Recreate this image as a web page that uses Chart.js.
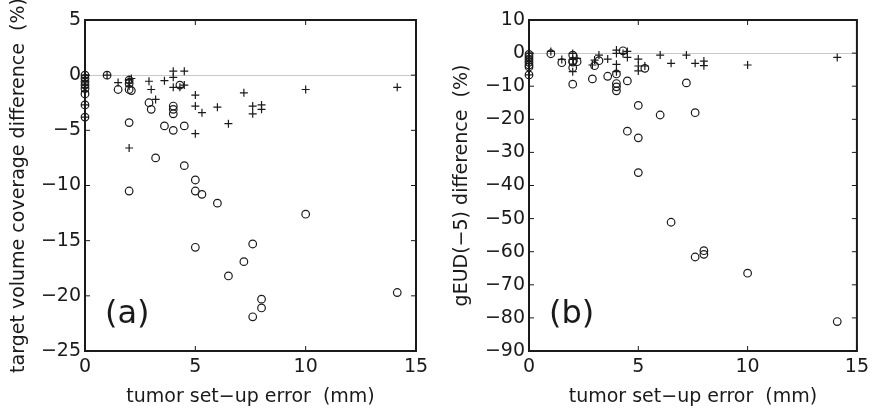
<!DOCTYPE html>
<html>
<head>
<meta charset="utf-8">
<script src="https://cdn.jsdelivr.net/npm/chart.js@4"></script>
<style>
    body { margin: 0; background: #fff; }
    .panel { position: absolute; top: 0; width: 437px; height: 411px; }
    #panelA { left: 0; }
    #panelB { left: 437px; }
</style>
</head>
<body>
<div class="panel" id="panelA"><canvas id="chartA" width="437" height="411"></canvas></div>
<div class="panel" id="panelB"><canvas id="chartB" width="437" height="411"></canvas></div>
<script>
// tumor set-up error (mm) vs. differences, '+' and 'o' series per panel
const xTicks = [0, 5, 10, 15];
const yTicksA = [5, 0, -5, -10, -15, -20, -25];
const yTicksB = [10, 0, -10, -20, -30, -40, -50, -60, -70, -80, -90];

// panel (a): target volume coverage difference (%)
const plusXA = [0, 0, 0, 0, 0, 0, 0, 0, 1, 1.5, 2, 2, 2.1, 2, 2, 2.9, 3, 3.2, 3.6, 4, 4, 4, 4.3, 4.5, 4.5, 5, 5, 5.3, 5, 6, 6.5, 7.2, 7.6, 7.6, 8, 8, 10, 14.15];
const plusYA = [0, -0.2, -0.5, -0.8, -1.1, -1.5, -2.7, -3.8, 0, -0.67, -0.4, -0.7, -0.3, -1.0, -6.6, -0.55, -1.3, -2.2, -0.5, 0.36, -0.2, -1.1, -1.1, 0.36, -0.9, -1.8, -2.8, -3.4, -5.3, -2.9, -4.4, -1.6, -2.8, -3.5, -2.7, -3.1, -1.3, -1.1];
const circXA = [0, 0, 0, 0, 0, 0, 0, 0, 1, 1.5, 2, 2, 2, 2.1, 2, 2, 2.9, 3, 3.2, 3.6, 4, 4, 4, 4, 4.3, 4.5, 4.5, 5, 5, 5.3, 5, 6, 6.5, 7.2, 7.6, 7.6, 8, 8, 10, 14.15];
const circYA = [0, -0.3, -0.6, -0.9, -1.2, -1.7, -2.7, -3.8, 0, -1.3, -0.45, -0.75, -1.3, -1.4, -4.3, -10.5, -2.5, -3.1, -7.5, -4.6, -2.8, -3.1, -3.5, -5.0, -0.9, -4.6, -8.2, -9.5, -10.5, -10.8, -15.6, -11.6, -18.2, -16.9, -15.3, -21.9, -20.3, -21.1, -12.6, -19.7];

// panel (b): gEUD(-5) difference (%)
const plusXB = [0, 0, 0, 0, 0, 0, 1, 1.5, 2, 2, 2, 2.2, 2.9, 3, 3.2, 3.6, 4, 4, 4, 4, 4.3, 4.5, 4.5, 5, 5, 5, 5.3, 6, 6.5, 7.2, 7.6, 8, 8, 10, 14.1];
const plusYB = [0, -0.8, -1.6, -2.4, -3.2, -6.6, 0.5, -1.9, -0.1, -1.9, -5.6, -1.6, -3.6, -2.1, -0.6, -1.8, 0.9, -0.1, -3.4, -5.6, -0.1, 0.5, -1.3, -1.8, -3.9, -5.4, -3.9, -0.6, -3.1, -0.6, -3.1, -2.4, -3.8, -3.6, -1.3];
const circXB = [0, 0, 0, 0, 0, 0, 0, 1, 1.5, 2, 2, 2, 2, 2, 2.2, 2.9, 3, 3.2, 3.6, 4, 4, 4, 4, 4.3, 4.5, 4.5, 5, 5, 5, 5.3, 6, 6.5, 7.2, 7.6, 7.6, 8, 8, 10, 14.1];
const circYB = [-0.4, -1.2, -2.0, -2.8, -3.6, -4.2, -6.6, -0.2, -2.9, -0.6, -2.4, -2.7, -4.4, -9.4, -2.6, -7.8, -3.8, -2.3, -7.0, -6.3, -9.2, -10.2, -11.4, 0.7, -8.4, -23.6, -15.8, -25.6, -36.1, -4.6, -18.7, -51.1, -9.0, -18.0, -61.6, -59.7, -60.8, -66.5, -81.1];

const ink = '#1a1a1a';
const pts = (xs, ys) => xs.map((x, i) => ({ x: x, y: ys[i] }));
const minus = v => v < 0 ? '\u2212' + Math.abs(v) : String(v);

// box frame, inward ticks and the panel letter
const frameTicks = {
    id: 'frameTicks',
    beforeDatasetsDraw(chart, args, opts) {
        const { ctx, chartArea: a, scales: { x, y } } = chart;
        ctx.save();
        ctx.strokeStyle = ink;
        ctx.lineWidth = 1;
        ctx.beginPath();
        x.ticks.forEach(t => {
            const px = x.getPixelForValue(t.value);
            ctx.moveTo(px, a.bottom); ctx.lineTo(px, a.bottom - 5);
            ctx.moveTo(px, a.top); ctx.lineTo(px, a.top + 5);
        });
        y.ticks.forEach(t => {
            const py = y.getPixelForValue(t.value);
            ctx.moveTo(a.left, py); ctx.lineTo(a.left + 5, py);
            ctx.moveTo(a.right, py); ctx.lineTo(a.right - 5, py);
        });
        ctx.stroke();
        ctx.lineWidth = 2;
        ctx.strokeRect(a.left, a.top, a.width, a.height);
        ctx.font = '32px "DejaVu Sans"';
        ctx.fillStyle = ink;
        ctx.textBaseline = 'alphabetic';
        ctx.fillText(opts.label, a.left + 20, a.bottom - 28);
        ctx.restore();
    }
};

function makePanel(id, plus, circ, yTicks, yTitle, letter, leftW, rightPad, titlePad) {
    new Chart(document.getElementById(id), {
        type: 'scatter',
        data: {
            datasets: [{
                data: plus,
                pointStyle: 'cross',
                pointRadius: 4,
                borderColor: ink,
                borderWidth: 1.2,
                clip: false
            }, {
                data: circ,
                pointStyle: 'circle',
                pointRadius: 3.8,
                borderColor: ink,
                backgroundColor: 'transparent',
                borderWidth: 1.2,
                clip: false
            }]
        },
        options: {
            responsive: false,
            animation: false,
            layout: { padding: { top: 20, right: rightPad, left: 0, bottom: 0 } },
            plugins: {
                legend: { display: false },
                tooltip: { enabled: false },
                frameTicks: { label: letter }
            },
            scales: {
                x: {
                    min: 0, max: 15,
                    afterBuildTicks: s => { s.ticks = xTicks.map(v => ({ value: v })); },
                    afterFit: s => { s.height = 60; },
                    grid: { display: false, drawTicks: false },
                    border: { display: false },
                    ticks: { color: ink, padding: 5, font: { family: 'DejaVu Sans', size: 19 }, callback: minus },
                    title: { display: true, text: 'tumor set\u2212up error  (mm)', color: ink, font: { family: 'DejaVu Sans', size: 19 }, padding: { top: 0, bottom: 3 } }
                },
                y: {
                    min: yTicks[yTicks.length - 1], max: yTicks[0],
                    afterBuildTicks: s => { s.ticks = yTicks.map(v => ({ value: v })); },
                    afterFit: s => { s.width = leftW; },
                    grid: { drawTicks: false, color: c => c.tick && c.tick.value === 0 ? '#c8c8c8' : 'transparent' },
                    border: { display: false },
                    ticks: { color: ink, padding: 4, font: { family: 'DejaVu Sans', size: 19 }, callback: minus },
                    title: { display: true, text: yTitle, color: ink, font: { family: 'DejaVu Sans', size: 19 }, padding: { top: titlePad, bottom: 0 } }
                }
            }
        },
        plugins: [frameTicks]
    });
}

makePanel('chartA', pts(plusXA, plusYA), pts(circXA, circYA), yTicksA,
    'target volume coverage difference  (%)', '(a)', 85, 21, 8);
makePanel('chartB', pts(plusXB, plusYB), pts(circXB, circYB), yTicksB,
    'gEUD(\u22125) difference  (%)', '(b)', 92, 14, 14);
</script>
</body>
</html>
